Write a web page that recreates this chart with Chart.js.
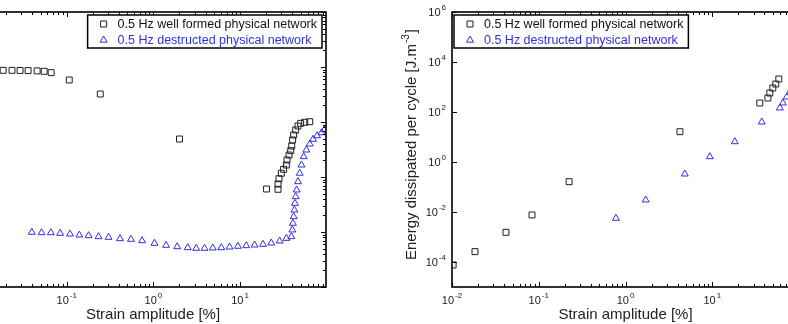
<!DOCTYPE html>
<html>
<head>
<meta charset="utf-8">
<script src="https://cdn.jsdelivr.net/npm/chart.js@4/dist/chart.umd.min.js"></script>
<style>
  html, body { margin: 0; padding: 0; background: #fff; overflow: hidden; }
  body { width: 788px; height: 324px; position: relative; }
  canvas { position: absolute; top: 0; }
  #left-chart { left: -80px; }
  #right-chart { left: 340px; }
</style>
</head>
<body>
<canvas id="left-chart" width="460" height="324"></canvas>
<canvas id="right-chart" width="500" height="324"></canvas>
<script>
// legend names
var seriesNames = ['0.5 Hz well formed physical network', '0.5 Hz destructed physical network'];

// tick values
var strainTicks = [0.01, 0.1, 1, 10, 100];
var leftYTicks = [1, 10, 100, 1000, 10000, 100000];
var energyTicks = [1e-4, 1e-2, 1, 1e2, 1e4, 1e6];

// left panel (y axis labels are outside the picture)
var strainWellL = [0.0185, 0.0234, 0.029, 0.0359, 0.0456, 0.055, 0.0662, 0.107, 0.244, 2.0, 20.2,
  27.4, 27.4, 28.1, 29.9, 31.8, 34.2, 34.8, 36.7, 38.4, 39.4, 40.4, 41.5, 43.8, 46.6, 50.0, 55.7, 63.6];
var valueWellL = [8700, 8700, 8650, 8600, 8500, 8350, 7900, 5810, 3230, 491, 60.5,
  59.7, 74.6, 93, 117, 138, 165, 204, 251, 301, 366, 471, 580, 716, 846, 946, 988, 1012];
var strainDestrL = [0.0396, 0.0512, 0.0656, 0.0841, 0.109, 0.140, 0.179, 0.233, 0.304, 0.412, 0.552, 0.740,
  1.03, 1.40, 1.88, 2.49, 3.12, 3.89, 4.85, 6.07, 7.56, 9.44, 11.8, 14.7, 18.4, 22.9, 28.6, 34.2,
  39.1, 40.1, 40.7, 41.5, 42.3, 43.0, 43.8, 45.0, 46.6, 48.7, 51.0, 54.2, 58.2, 63.6, 69.5, 77.3, 86.9, 93.5];
var valueDestrL = [9.89, 9.71, 9.71, 9.47, 9.20, 8.82, 8.57, 8.22, 8.01, 7.56, 7.37, 6.95,
  6.23, 5.73, 5.40, 5.19, 5.05, 5.05, 5.12, 5.19, 5.33, 5.50, 5.64, 5.80, 5.97, 6.31, 6.86, 7.67,
  8.22, 10.9, 14.4, 19.0, 25.1, 33.2, 43.9, 58.1, 82.2, 117, 165, 234, 310, 398, 484, 563, 638, 720];

// right panel: energy dissipated per cycle
var strainWellR = [0.0103, 0.0184, 0.0419, 0.0836, 0.224, 4.24, 35.3, 43.8, 46.1, 49.9, 54.0, 58.5];
var energyWellR = [7.6e-5, 2.6e-4, 1.54e-3, 7.6e-3, 0.163, 16.3, 229, 363, 575, 912, 1318, 2089];
var strainDestrR = [0.775, 1.71, 4.83, 9.38, 18.2, 37.2, 60.1, 65.1, 72.3, 78.3, 85.0];
var energyDestrR = [5.6e-3, 0.0302, 0.331, 1.63, 6.49, 39.8, 145, 229, 398, 631, 912];

var FONT = '"Liberation Sans", Arial, Helvetica, sans-serif';
var BLACK = '#1e1e1e';
var BLUE = '#2f2fe0';

function toPoints(xs, ys) {
  return xs.map(function (x, i) { return { x: x, y: ys[i] }; });
}

function drawMarker(ctx, style, x, y, color) {
  ctx.save();
  ctx.strokeStyle = color;
  ctx.lineWidth = 1;
  ctx.beginPath();
  if (style === 'rect') {
    ctx.rect(x - 3, y - 3, 6, 6);
  } else {
    ctx.moveTo(x, y - 4);
    ctx.lineTo(x + 3.5, y + 2.2);
    ctx.lineTo(x - 3.5, y + 2.2);
    ctx.closePath();
  }
  ctx.stroke();
  ctx.restore();
}

// "10" with a raised exponent
function drawPow(ctx, exp, x, y, align) {
  ctx.font = '11px ' + FONT;
  var wb = ctx.measureText('10').width;
  ctx.font = '8px ' + FONT;
  var we = ctx.measureText(exp).width;
  var w = wb + we + 1;
  var x0 = align === 'right' ? x - w : x - w / 2;
  ctx.textAlign = 'left';
  ctx.textBaseline = 'alphabetic';
  ctx.font = '11px ' + FONT;
  ctx.fillText('10', x0, y);
  ctx.font = '8px ' + FONT;
  ctx.fillText(exp, x0 + wb + 1, y - 6);
}

function logTicks(lo, hi) {
  var out = [];
  var d = Math.pow(10, Math.floor(Math.log10(lo) + 1e-9));
  for (; d <= hi * 1.0001; d *= 10) {
    for (var k = 1; k < 10; k++) {
      var v = d * k;
      if (v > hi * 1.0001) break;
      if (v < lo * 0.9999) continue;
      out.push({ v: v, major: k === 1 });
    }
  }
  return out;
}

var matlabFrame = {
  id: 'matlabFrame',
  afterDraw: function (chart) {
    var cfg = chart.options.plugins.matlabFrame;
    var ctx = chart.ctx;
    var a = chart.chartArea;
    var xs = chart.scales.x, ys = chart.scales.y;
    ctx.save();
    ctx.fillStyle = BLACK;
    ctx.strokeStyle = '#000';

    // inward ticks on all four sides
    ctx.lineWidth = 1;
    logTicks(xs.min, xs.max).forEach(function (t) {
      var px = Math.round(xs.getPixelForValue(t.v)) + 0.5;
      var len = t.major ? 5 : 3;
      ctx.beginPath();
      ctx.moveTo(px, a.bottom); ctx.lineTo(px, a.bottom - len);
      ctx.moveTo(px, a.top); ctx.lineTo(px, a.top + len);
      ctx.stroke();
    });
    var yt = cfg.yMinor ? logTicks(ys.min, ys.max) : cfg.yTicks.map(function (v) { return { v: v, major: true }; });
    yt.forEach(function (t) {
      var py = Math.round(ys.getPixelForValue(t.v)) + 0.5;
      var len = t.major ? 5 : 3;
      ctx.beginPath();
      ctx.moveTo(a.left, py); ctx.lineTo(a.left + len, py);
      ctx.moveTo(a.right, py); ctx.lineTo(a.right - len, py);
      ctx.stroke();
    });

    // box
    ctx.lineWidth = 1.6;
    ctx.strokeRect(a.left, a.top, a.right - a.left, a.bottom - a.top);

    // tick labels
    ctx.fillStyle = '#222';
    strainTicks.forEach(function (v) {
      if (v < xs.min * 0.9999 || v > xs.max * 1.0001) return;
      drawPow(ctx, String(Math.round(Math.log10(v))), xs.getPixelForValue(v), a.bottom + 17);
    });
    cfg.yTicks.forEach(function (v) {
      drawPow(ctx, String(Math.round(Math.log10(v))), a.left - 6, ys.getPixelForValue(v) + 4, 'right');
    });

    // axis titles
    ctx.font = '15px ' + FONT;
    ctx.textAlign = 'center';
    ctx.textBaseline = 'alphabetic';
    ctx.fillText('Strain amplitude [%]', (a.left + a.right) / 2, a.bottom + 32);

    if (cfg.yTitle) {
      ctx.save();
      ctx.translate(a.left - 36, a.top + 248);
      ctx.rotate(-Math.PI / 2);
      ctx.textAlign = 'left';
      ctx.font = '15px ' + FONT;
      var t1 = cfg.yTitle[0];
      ctx.fillText(t1, 0, 0);
      var w1 = ctx.measureText(t1).width;
      ctx.font = '10px ' + FONT;
      ctx.fillText(cfg.yTitle[1], w1 + 1, -7);
      var w2 = ctx.measureText(cfg.yTitle[1]).width;
      ctx.font = '15px ' + FONT;
      ctx.fillText(cfg.yTitle[2], w1 + w2 + 2, 0);
      ctx.restore();
    }

    // legend box
    ctx.font = '12.5px ' + FONT;
    var tw = Math.max.apply(null, chart.data.datasets.map(function (d) { return ctx.measureText(d.label).width; }));
    var bw = 30 + tw + 5, bh = 33;
    var bx = cfg.legendSide === 'right' ? a.right - 4 - bw : a.left + 2;
    var by = a.top + 3;
    ctx.fillStyle = '#fff';
    ctx.fillRect(bx, by, bw, bh);
    ctx.lineWidth = 1.5;
    ctx.strokeStyle = '#000';
    ctx.strokeRect(bx, by, bw, bh);
    chart.data.datasets.forEach(function (d, i) {
      var ry = by + 9 + i * 16;
      drawMarker(ctx, d.pointStyle, bx + 16, ry, d.borderColor);
      ctx.fillStyle = d.borderColor === BLUE ? BLUE : '#111';
      ctx.textAlign = 'left';
      ctx.textBaseline = 'middle';
      ctx.fillText(d.label, bx + 30, ry + 0.5);
    });
    ctx.restore();
  }
};

function makePanel(id, wellX, wellY, destrX, destrY, xMax, yMin, yMax, cfg, pad) {
  return new Chart(document.getElementById(id).getContext('2d'), {
    type: 'scatter',
    data: {
      datasets: [{
        label: seriesNames[0],
        data: toPoints(wellX, wellY),
        pointStyle: 'rect',
        pointRadius: 4.2,
        borderWidth: 1,
        borderColor: BLACK,
        backgroundColor: 'rgba(0,0,0,0)'
      }, {
        label: seriesNames[1],
        data: toPoints(destrX, destrY),
        pointStyle: 'triangle',
        pointRadius: 4,
        borderWidth: 1,
        borderColor: BLUE,
        backgroundColor: 'rgba(0,0,0,0)'
      }]
    },
    options: {
      responsive: false,
      animation: false,
      layout: { padding: pad },
      scales: {
        x: {
          type: 'logarithmic', min: 0.01, max: xMax,
          ticks: { display: false }, grid: { display: false }, border: { display: false },
          afterFit: function (s) { s.height = 0; }
        },
        y: {
          type: 'logarithmic', min: yMin, max: yMax,
          ticks: { display: false }, grid: { display: false }, border: { display: false },
          afterFit: function (s) { s.width = 0; }
        }
      },
      plugins: {
        legend: { display: false },
        tooltip: { enabled: false },
        matlabFrame: cfg
      }
    },
    plugins: [matlabFrame]
  });
}

makePanel('left-chart', strainWellL, valueWellL, strainDestrL, valueDestrL, 98, 1, 100000,
  { yTicks: leftYTicks, yMinor: true, legendSide: 'right' },
  { left: 60, right: 54, top: 12, bottom: 37 });

makePanel('right-chart', strainWellR, energyWellR, strainDestrR, energyDestrR, 100, 1e-5, 1e6,
  { yTicks: energyTicks, yMinor: false, legendSide: 'left',
    yTitle: ['Energy dissipated per cycle [J.m', '-3', ']'] },
  { left: 112, right: 41, top: 12, bottom: 37 });
</script>
</body>
</html>
